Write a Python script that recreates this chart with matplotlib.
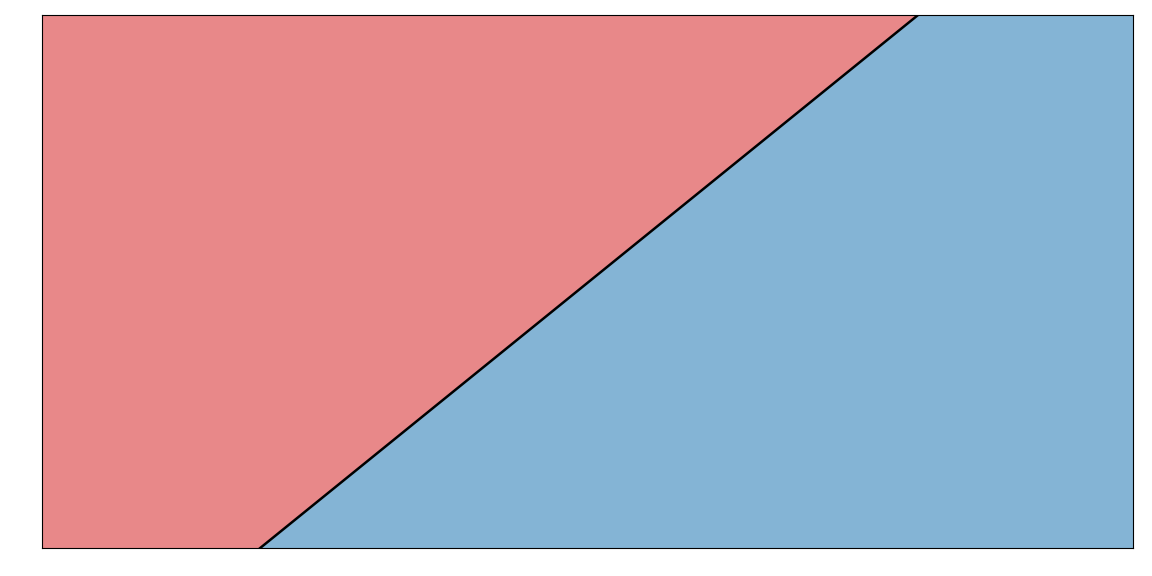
import numpy as np
import matplotlib
matplotlib.use('Agg')
import matplotlib.pyplot as plt

# domain and decision boundary (line through two points)
x_range = [0.0, 1.0]
y_range = [0.0, 1.0]
boundary_x = [0.2, 0.803]
boundary_y = [0.0, 1.0]

C_LEFT = 'tab:red'
C_RIGHT = 'tab:blue'

fig = plt.figure(figsize=(11.52, 5.76), dpi=100)
ax = fig.add_axes([42 / 1152, 1 - 548 / 576, 1091 / 1152, 533 / 576])

slope = (boundary_y[1] - boundary_y[0]) / (boundary_x[1] - boundary_x[0])
xs = np.array(x_range)
# boundary expressed as y(x) over the full x range
yb = boundary_y[0] + slope * (xs - boundary_x[0])

ax.fill_between(xs, yb, y_range[1], color=C_LEFT, alpha=0.55, lw=0, zorder=1)
ax.fill_between(xs, y_range[0], yb, color=C_RIGHT, alpha=0.55, lw=0, zorder=1)
ax.plot(boundary_x, boundary_y, color='black', lw=1.8, zorder=4)

ax.set_xlim(*x_range)
ax.set_ylim(*y_range)
ax.set_xticks([])
ax.set_yticks([])

fig.savefig('out.png', dpi=100)
plt.close(fig)
